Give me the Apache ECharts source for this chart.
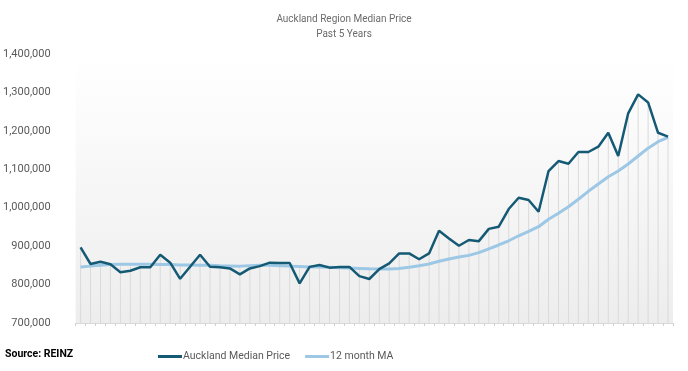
<!DOCTYPE html>
<html>
<head>
<meta charset="utf-8">
<script src="https://cdn.jsdelivr.net/npm/echarts@6/dist/echarts.min.js"></script>
<style>html,body{margin:0;padding:0;background:#fff}#c{width:688px;height:371px}</style>
</head>
<body>
<div id="c"></div>
<script>
var months = ['Mar-17','Apr-17','May-17','Jun-17','Jul-17','Aug-17','Sep-17','Oct-17','Nov-17','Dec-17',
  'Jan-18','Feb-18','Mar-18','Apr-18','May-18','Jun-18','Jul-18','Aug-18','Sep-18','Oct-18','Nov-18','Dec-18',
  'Jan-19','Feb-19','Mar-19','Apr-19','May-19','Jun-19','Jul-19','Aug-19','Sep-19','Oct-19','Nov-19','Dec-19',
  'Jan-20','Feb-20','Mar-20','Apr-20','May-20','Jun-20','Jul-20','Aug-20','Sep-20','Oct-20','Nov-20','Dec-20',
  'Jan-21','Feb-21','Mar-21','Apr-21','May-21','Jun-21','Jul-21','Aug-21','Sep-21','Oct-21','Nov-21','Dec-21',
  'Jan-22','Feb-22'];
var medianPrice = [897000,853500,859500,852700,832000,836000,845000,845000,877700,857000,
  815000,846500,877700,846500,845000,842000,826700,842000,848000,857000,
  856000,856000,803000,846000,851000,844000,846000,846000,822000,814500,
  840000,855000,881000,881000,865800,881000,940000,920000,901000,916000,
  913000,945000,950600,996600,1026000,1020000,989600,1095500,1121500,1114500,
  1145000,1145000,1158800,1195000,1134500,1245600,1295000,1274000,1195000,1185000];
var movingAvg = [846000,848000,850000,852000,853000,853000,853000,853000,852000,852000,
  851000,851000,850000,850000,849000,848500,848000,849000,850000,850000,
  849000,848000,847000,846000,846000,845000,844000,843000,842000,841000,
  840500,840500,842000,845000,849000,853500,860500,866500,871700,876000,
  883000,893000,903000,914000,927000,938600,950600,970000,985500,1002600,
  1022000,1042700,1061700,1080700,1095500,1113700,1134500,1155000,1171800,1183000];
var yTicks = {min: 700000, max: 1400000, step: 100000};
var seriesNames = ['Auckland Median Price', '12 month MA'];

var dropLines = medianPrice.map(function (v, i) { return Math.max(v, movingAvg[i]); });

var chart = echarts.init(document.getElementById('c'));
var fontFam = 'Roboto, "Noto Sans", sans-serif';
chart.setOption({
  animation: false,
  backgroundColor: '#ffffff',
  title: {
    text: 'Auckland Region Median Price',
    subtext: 'Past 5 Years',
    left: 'center',
    top: 8,
    itemGap: 3,
    textStyle: {fontSize: 10, lineHeight: 12, fontWeight: 'normal', color: '#6b6b6b', fontFamily: fontFam},
    subtextStyle: {fontSize: 10, lineHeight: 12, color: '#6b6b6b', fontFamily: fontFam}
  },
  legend: {
    data: seriesNames,
    left: 153,
    top: 346,
    icon: 'rect',
    itemWidth: 24,
    itemHeight: 3,
    itemGap: 15,
    textStyle: {fontSize: 10.5, color: '#595959', fontFamily: fontFam, padding: [0, 0, 0, -4]}
  },
  graphic: [{
    type: 'text',
    left: 5,
    top: 349,
    style: {text: 'Source: REINZ', fontSize: 10.5, fontWeight: 'bold', fill: '#000', fontFamily: fontFam}
  }],
  grid: {
    left: 73, right: 15, top: 54, bottom: 48,
    show: true,
    borderWidth: 0,
    backgroundColor: new echarts.graphic.LinearGradient(0, 0, 0, 1, [
      {offset: 0, color: '#ffffff'},
      {offset: 0.25, color: '#fbfbfb'},
      {offset: 1, color: '#ededed'}
    ])
  },
  xAxis: {
    type: 'category',
    data: months,
    boundaryGap: true,
    axisLine: {lineStyle: {color: '#d9d9d9', width: 1}},
    axisTick: {show: true, interval: 0, length: 3, lineStyle: {color: '#d0d0d0'}},
    axisLabel: {show: false}
  },
  yAxis: {
    type: 'value',
    min: yTicks.min,
    max: yTicks.max,
    interval: yTicks.step,
    splitLine: {show: false},
    axisLine: {show: false},
    axisTick: {show: false},
    axisLabel: {
      fontSize: 11, color: '#595959', fontFamily: fontFam, margin: 25,
      formatter: function (v) { return v.toLocaleString('en-US'); }
    }
  },
  series: [
    {
      name: 'drop',
      type: 'bar',
      data: dropLines,
      barWidth: 1,
      itemStyle: {color: '#dadada'},
      silent: true,
      z: 1
    },
    {
      name: seriesNames[0],
      type: 'line',
      data: medianPrice,
      symbol: 'none',
      lineStyle: {color: '#155a74', width: 2.5},
      itemStyle: {color: '#155a74'},
      z: 4
    },
    {
      name: seriesNames[1],
      type: 'line',
      data: movingAvg,
      symbol: 'none',
      lineStyle: {color: '#9dc8e5', width: 3},
      itemStyle: {color: '#9dc8e5'},
      z: 3
    }
  ]
});
</script>
</body>
</html>
